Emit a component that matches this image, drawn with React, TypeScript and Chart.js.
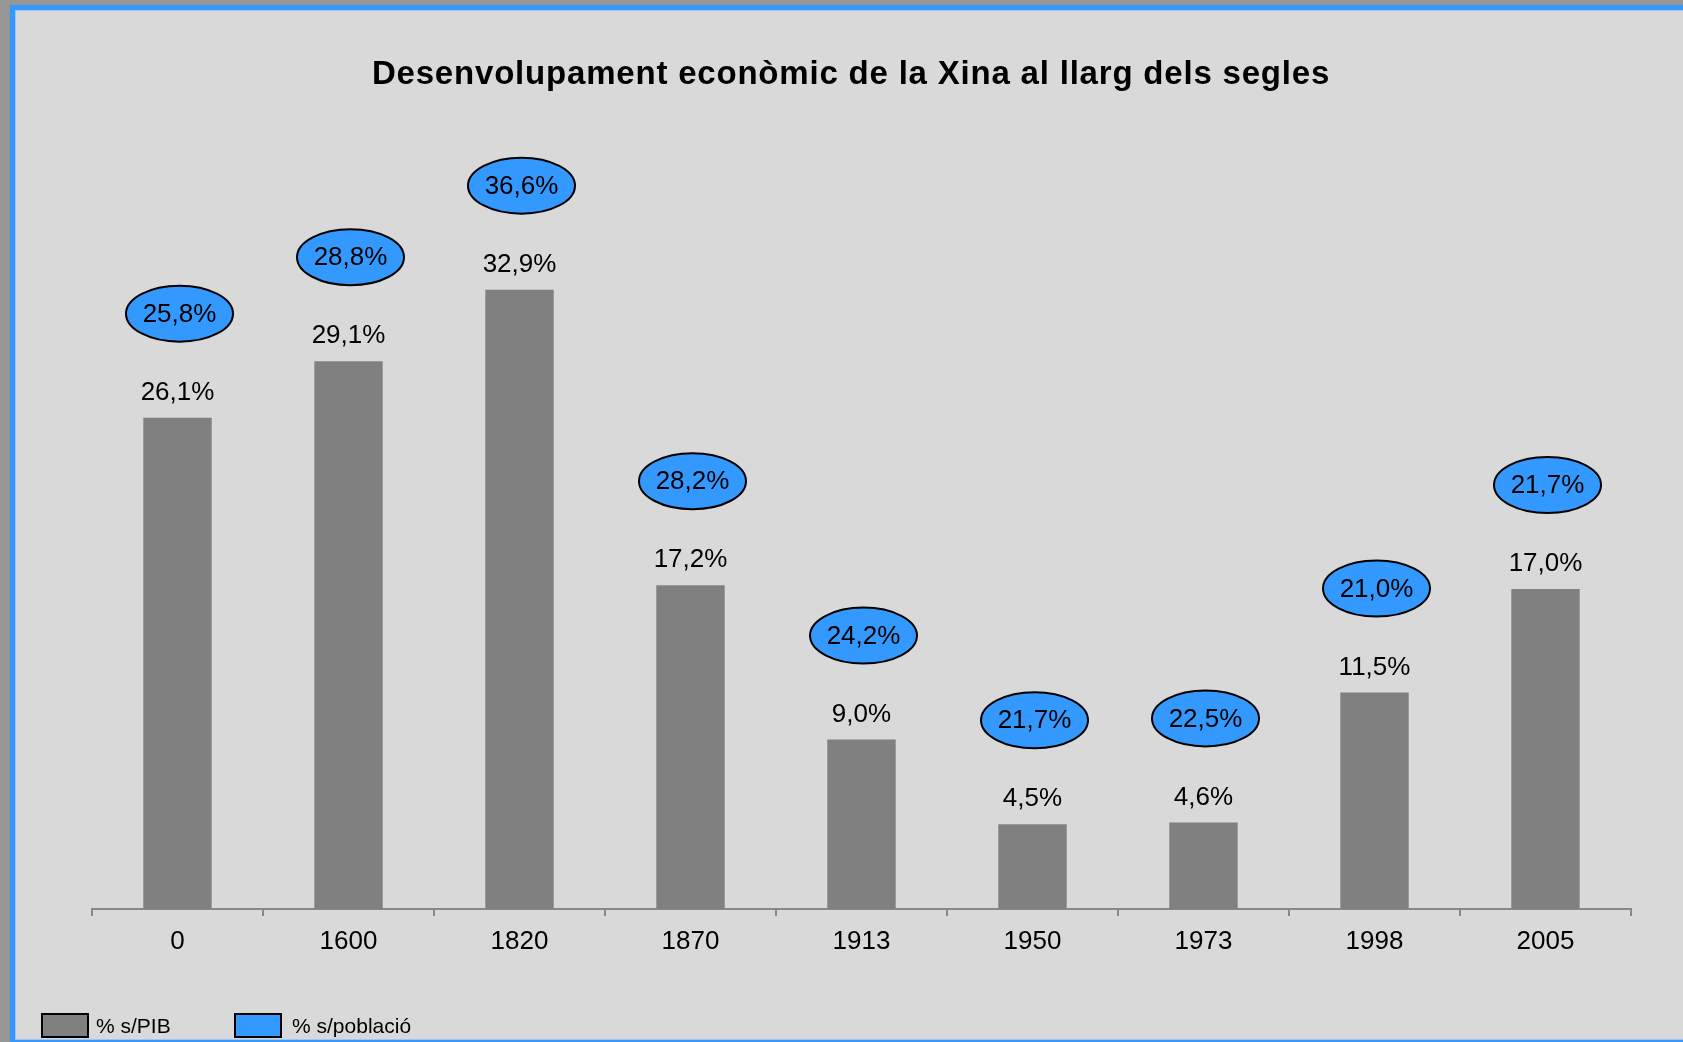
import React, { useEffect, useRef } from "react";
import { Chart, registerables } from "chart.js";

Chart.register(...registerables);

const chartTitle = "Desenvolupament econòmic de la Xina al llarg dels segles";
const categories = ["0", "1600", "1820", "1870", "1913", "1950", "1973", "1998", "2005"];
const gdpShare = [26.1, 29.1, 32.9, 17.2, 9.0, 4.5, 4.6, 11.5, 17.0];
const populationShare = [25.8, 28.8, 36.6, 28.2, 24.2, 21.7, 22.5, 21.0, 21.7];
const seriesNames = ["% s/PIB", "% s/població"];
const seriesColors = ["#808080", "#3399ff"];

const FONT = "'Liberation Sans', Arial, Helvetica, sans-serif";
const fmt = (v: number) => v.toFixed(1).replace(".", ",") + "%";

const overlayPlugin = {
  id: "overlay",
  afterDatasetsDraw(chart: any) {
    const ctx = chart.ctx as CanvasRenderingContext2D;
    const meta = chart.getDatasetMeta(0);
    ctx.save();
    ctx.textAlign = "center";
    ctx.textBaseline = "middle";
    ctx.font = `26px ${FONT}`;
    meta.data.forEach((bar: any, i: number) => {
      const x = bar.x;
      const top = bar.y;
      // bar value label
      ctx.fillStyle = "#000";
      ctx.fillText(fmt(gdpShare[i]), x, top - 25);
      // population ellipse
      const cx = x + 2;
      const cy = top - 104;
      ctx.beginPath();
      ctx.ellipse(cx, cy, 53.5, 28, 0, 0, Math.PI * 2);
      ctx.fillStyle = seriesColors[1];
      ctx.fill();
      ctx.lineWidth = 2;
      ctx.strokeStyle = "#000";
      ctx.stroke();
      ctx.fillStyle = "#000";
      ctx.fillText(fmt(populationShare[i]), cx, cy + 1);
    });
    ctx.restore();
  },
  afterDraw(chart: any) {
    const ctx = chart.ctx as CanvasRenderingContext2D;
    ctx.save();
    // title
    ctx.fillStyle = "#000";
    ctx.textAlign = "center";
    ctx.textBaseline = "middle";
    ctx.font = `bold 33px ${FONT}`;
    try {
      (ctx as any).letterSpacing = "0.8px";
    } catch (e) {}
    ctx.fillText(chartTitle, 851, 75);
    try {
      (ctx as any).letterSpacing = "0px";
    } catch (e) {}
    // legend
    const items = [
      { x: 42, tx: 96 },
      { x: 235, tx: 292 },
    ];
    ctx.font = `21px ${FONT}`;
    ctx.textAlign = "left";
    items.forEach((it, i) => {
      ctx.fillStyle = seriesColors[i];
      ctx.fillRect(it.x, 1014, 46, 23);
      ctx.lineWidth = 2;
      ctx.strokeStyle = "#000";
      ctx.strokeRect(it.x, 1014, 46, 23);
      ctx.fillStyle = "#000";
      ctx.fillText(seriesNames[i], it.tx, 1027);
    });
    ctx.restore();
  },
};

export default function App() {
  const canvasRef = useRef<HTMLCanvasElement | null>(null);

  useEffect(() => {
    if (!canvasRef.current) return;
    const chart = new Chart(canvasRef.current, {
      type: "bar",
      data: {
        labels: categories,
        datasets: [
          {
            label: seriesNames[0],
            data: gdpShare,
            backgroundColor: seriesColors[0],
            borderWidth: 0,
            categoryPercentage: 1,
            barPercentage: 0.4,
          },
        ],
      },
      options: {
        animation: false,
        responsive: false,
        maintainAspectRatio: false,
        layout: { padding: { left: 92, right: 52, top: 156, bottom: 83 } },
        plugins: {
          legend: { display: false },
          title: { display: false },
          tooltip: { enabled: false },
        },
        scales: {
          y: { display: false, min: 0, max: 40 },
          x: {
            afterFit: (scale: any) => {
              scale.height = 50;
            },
            grid: {
              display: true,
              offset: true,
              drawOnChartArea: false,
              drawTicks: true,
              tickLength: 7,
              color: "#888888",
              lineWidth: 2,
            },
            border: { display: true, color: "#888888", width: 2 },
            ticks: {
              color: "#000",
              font: { size: 26, family: FONT },
              padding: 10,
            },
          },
        },
      },
      plugins: [overlayPlugin],
    });
    return () => chart.destroy();
  }, []);

  return (
    <div
      style={{
        position: "absolute",
        left: 0,
        top: 0,
        width: 1683,
        height: 1042,
        overflow: "hidden",
        background: "#969696",
      }}
    >
      <div
        style={{
          position: "absolute",
          left: 10,
          top: 5,
          width: 1700,
          height: 1040,
          boxSizing: "border-box",
          border: "5px solid #3399ff",
          boxShadow: "inset 0 0 0 1px #9cc8f0",
          background: "#d9d9d9",
        }}
      />
      <canvas
        ref={canvasRef}
        width={1683}
        height={1042}
        style={{ position: "absolute", left: 0, top: 0, width: 1683, height: 1042 }}
      />
    </div>
  );
}
